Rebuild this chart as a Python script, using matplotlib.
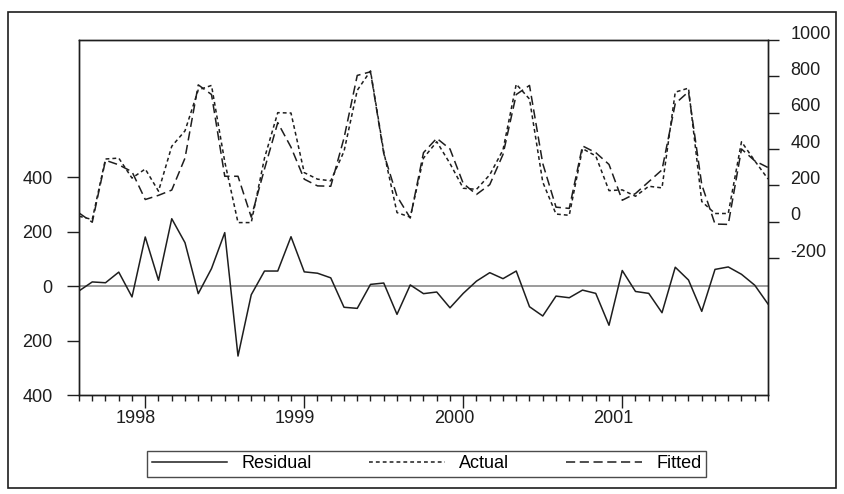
import numpy as np
import pandas as pd
import matplotlib
matplotlib.use('Agg')
import matplotlib.pyplot as plt
from matplotlib import transforms

plt.rcParams['font.family'] = ['Liberation Sans', 'DejaVu Sans']
plt.rcParams['font.size'] = 13
plt.rcParams['axes.unicode_minus'] = False

# monthly sample, Aug 1997 - Dec 2001
months = pd.period_range('1997-08', '2001-12', freq='M')

residual = [-18, 15, 12, 51, -40, 180, 21, 247, 159, -28, 64, 196, -257,
            -32, 55, 55, 181, 52, 47, 30, -78, -82, 6, 11, -104, 4, -28,
            -22, -80, -27, 18, 49, 27, 55, -76, -110, -37, -43, -15, -27,
            -144, 57, -20, -27, -98, 69, 22, -93, 61, 70, 43, 3, -66]
actual = [30, 12, 345, 350, 240, 290, 168, 415, 500, 725, 750, 330, -5,
          -5, 350, 600, 598, 270, 234, 225, 387, 723, 830, 385, 50, 25, 350,
          440, 320, 184, 178, 258, 395, 757, 675, 218, 42, 35, 402, 362,
          171, 175, 140, 195, 186, 713, 735, 111, 45, 45, 440, 335, 235]
fitted = [48, -3, 338, 313, 275, 122, 145, 174, 350, 753, 700, 250, 250,
          25, 290, 545, 410, 234, 197, 195, 460, 805, 825, 375, 140, 20, 380,
          459, 400, 210, 150, 204, 370, 700, 750, 320, 80, 73, 417, 380,
          315, 118, 155, 220, 285, 650, 715, 204, -13, -15, 400, 335, 298]

years = ['1998', '1999', '2000', '2001']
left_ticks = [-400, -200, 0, 200, 400]
left_labels = ['400', '200', '0', '200', '400']
right_ticks = [-200, 0, 200, 400, 600, 800, 1000]

x = np.arange(len(months))
jan = [i for i, p in enumerate(months) if p.month == 1]

ink = '#1e1e1e'
W, H = 845, 494
fig = plt.figure(figsize=(W / 100, H / 100), dpi=100)
ax = fig.add_axes([79 / W, 1 - 395 / H, (768 - 79) / W, (395 - 40) / H])
ax2 = ax.twinx()

l_res, = ax.plot(x, residual, color=ink, lw=1.1)
ax.axhline(0, color='#8a8a8a', lw=1.2, zorder=1)
l_act, = ax2.plot(x, actual, color=ink, lw=1.1, dashes=(2.5, 2))
l_fit, = ax2.plot(x, fitted, color=ink, lw=1.1, dashes=(6, 3))

ax.set_xlim(0, len(months) - 1)
ax.set_ylim(-400, 903)
ax2.set_ylim(-954, 1000)

ax.set_xticks(jan)
ax.set_xticklabels(years)
ax.set_xticks(x, minor=True)
ax.tick_params(axis='x', which='major', length=9, width=1, pad=2, colors=ink)
ax.tick_params(axis='x', which='minor', length=4, width=1, colors=ink)

ax.set_yticks(left_ticks)
ax.set_yticklabels(left_labels)
ax.tick_params(axis='y', length=9, width=1, pad=10, colors=ink)

ax2.set_yticks(right_ticks)
ax2.tick_params(axis='y', length=8, width=1, pad=8, colors=ink)

for s in ax.spines.values():
    s.set_color(ink)
    s.set_linewidth(1.0)
for s in ax2.spines.values():
    s.set_color(ink)
    s.set_linewidth(1.0)

# year labels sit a little left of the January tick, right labels a bit high
shift_x = transforms.ScaledTranslation(-9 / 100, 0, fig.dpi_scale_trans)
for lab in ax.get_xticklabels():
    lab.set_transform(lab.get_transform() + shift_x)
shift_y = transforms.ScaledTranslation(0, 8 / 100, fig.dpi_scale_trans)
for lab in ax2.get_yticklabels():
    lab.set_transform(lab.get_transform() + shift_y)

leg = fig.legend(handles=[l_res, l_act, l_fit],
                 labels=['Residual', 'Actual', 'Fitted'],
                 loc='lower left',
                 bbox_to_anchor=(147 / W, 1 - 477 / H, (706 - 147) / W, 30 / H),
                 mode='expand', ncol=3, fancybox=False, handlelength=4.2,
                 handletextpad=0.8, borderaxespad=0, borderpad=0.25)
leg.get_frame().set_edgecolor(ink)
leg.get_frame().set_linewidth(1.0)

fig.add_artist(plt.Rectangle((8 / W, 1 - 488 / H), (836 - 8) / W, (488 - 12) / H,
                             transform=fig.transFigure, fill=False,
                             lw=1.2, ec=ink))

fig.savefig('out.png', dpi=100)
